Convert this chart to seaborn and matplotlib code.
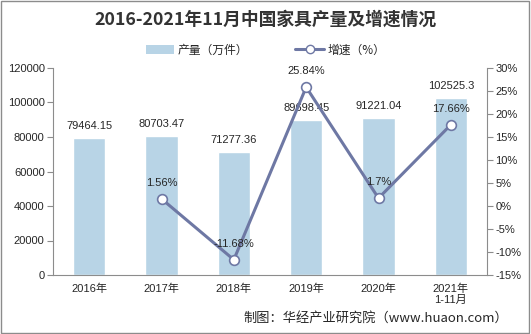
import matplotlib
matplotlib.use("Agg")
import matplotlib.pyplot as plt
import seaborn as sns
import pandas as pd
from matplotlib.patches import Rectangle
from matplotlib.lines import Line2D
from matplotlib.patches import Patch

categories = ["2016年", "2017年", "2018年", "2019年", "2020年", "2021年\n1-11月"]
output = [79464.15, 80703.47, 71277.36, 89698.45, 91221.04, 102525.3]
output_labels = ["79464.15", "80703.47", "71277.36", "89698.45", "91221.04", "102525.3"]
growth_cats = ["2017年", "2018年", "2019年", "2020年", "2021年\n1-11月"]
growth = [1.56, -11.68, 25.84, 1.7, 17.66]
growth_labels = ["1.56%", "-11.68%", "25.84%", "1.7%", "17.66%"]
left_ticks = [0, 20000, 40000, 60000, 80000, 100000, 120000]
right_ticks = [-15, -10, -5, 0, 5, 10, 15, 20, 25, 30]

sns.set_style("white")
plt.rcParams['font.family'] = ['Liberation Sans', 'Noto Sans CJK SC', 'DejaVu Sans']

bar_color = "#b8d4e6"
line_color = "#6e78a4"
axis_color = "#8c8c8c"
text_color = "#262626"

fig = plt.figure(figsize=(5.31, 3.34), dpi=100)
ax = fig.add_axes([53/531, 1 - 275/334, (487-53)/531, (275-68)/334])

df = pd.DataFrame({"cat": categories, "val": output})
sns.barplot(data=df, x="cat", y="val", order=categories, color=bar_color,
            width=0.45, ax=ax, saturation=1)
ax.set_xlabel("")
ax.set_ylabel("")
ax.set_ylim(0, 120000)
ax.set_yticks(left_ticks)
ax.set_yticklabels([str(t) for t in left_ticks])
ax.set_xlim(-0.5, len(categories) - 0.5)
ax.set_xticks(range(len(categories)))
ax.set_xticklabels(categories, fontsize=8, color=text_color)
ax.tick_params(axis='x', length=0, pad=6)
ax.set_xticks([i + 0.5 for i in range(-1, len(categories))], minor=True)
ax.tick_params(axis='x', which='minor', length=4, color=axis_color, direction='out')
ax.tick_params(axis='y', labelsize=8, labelcolor=text_color, length=4, color=axis_color, direction='out', pad=2)
for s in ["top", "right"]:
    ax.spines[s].set_visible(False)
for s in ["left", "bottom"]:
    ax.spines[s].set_color(axis_color)
    ax.spines[s].set_linewidth(0.8)

for i, (v, lab) in enumerate(zip(output, output_labels)):
    ax.annotate(lab, (i, v), xytext=(0, 5), textcoords="offset points",
                ha="center", va="bottom", fontsize=8, color=text_color)

ax2 = ax.twinx()
gx = [categories.index(c) for c in growth_cats]
gdf = pd.DataFrame({"x": gx, "g": growth})
sns.lineplot(data=gdf, x="x", y="g", ax=ax2, color=line_color, linewidth=2.2,
             marker="o", markersize=7, markerfacecolor="white",
             markeredgecolor=line_color, markeredgewidth=1.2)
ax2.set_xlabel("")
ax2.set_ylabel("")
ax2.set_ylim(-15, 30)
ax2.set_yticks(right_ticks)
ax2.set_yticklabels([f"{t}%" for t in right_ticks])
ax2.tick_params(axis='y', labelsize=8, labelcolor=text_color, length=4, color=axis_color, direction='out', pad=2)
for s in ["top", "left", "bottom"]:
    ax2.spines[s].set_visible(False)
ax2.spines["right"].set_color(axis_color)
ax2.spines["right"].set_linewidth(0.8)
ax2.set_xlim(-0.5, len(categories) - 0.5)

for x, v, lab in zip(gx, growth, growth_labels):
    ax2.annotate(lab, (x, v), xytext=(0, 8), textcoords="offset points",
                 ha="center", va="bottom", fontsize=8, color=text_color)

fig.text(0.5, 1 - 20/334, "2016-2021年11月中国家具产量及增速情况", ha="center", va="center",
         fontsize=12.8, fontweight="bold", color="#333333",
         family=['Noto Sans CJK SC', 'DejaVu Sans'])

handles = [Patch(facecolor=bar_color, edgecolor="none"),
           Line2D([0], [0], color=line_color, linewidth=2.2, marker="o", markersize=6,
                  markerfacecolor="white", markeredgecolor=line_color)]
fig.legend(handles, ["产量（万件）", "增速（%）"], loc="center", bbox_to_anchor=(0.5, 1 - 50/334),
           ncol=2, frameon=False, handlelength=2.4, columnspacing=4,
           handletextpad=0.3, prop={'family': ['Noto Sans CJK SC', 'DejaVu Sans'], 'size': 8.5})

fig.text(508/531, 1 - 318/334, "制图：华经产业研究院（www.huaon.com）", ha="right", va="center",
         fontsize=9.5, color=text_color, family=['Noto Sans CJK SC', 'DejaVu Sans'])

fig.patches.append(Rectangle((0.002, 0.003), 0.995, 0.994, transform=fig.transFigure,
                             fill=False, edgecolor="#8c8c8c", linewidth=1))

fig.savefig("out.png", dpi=100)
